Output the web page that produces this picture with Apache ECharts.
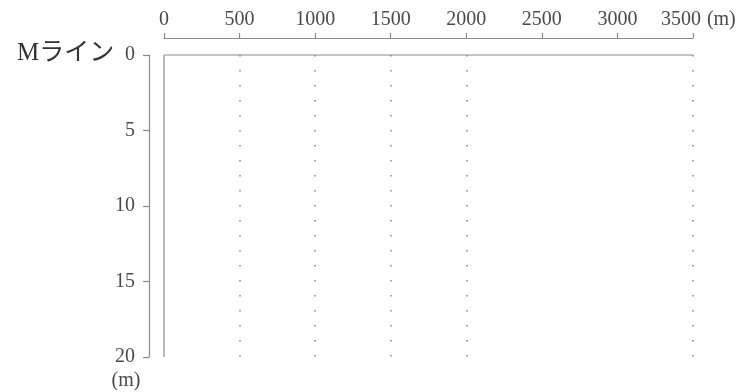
<!DOCTYPE html>
<html>
<head>
<meta charset="utf-8">
<script src="https://cdn.jsdelivr.net/npm/echarts@6.0.0/dist/echarts.min.js"></script>
<style>
html, body { margin: 0; padding: 0; background: #fff; }
#main { width: 752px; height: 392px; }
</style>
</head>
<body>
<div id="main"></div>
<script>
// 横軸（距離）と縦軸（深さ）の目盛
var xMin = 0, xMax = 3500, xStep = 500;
var yMin = 0, yMax = 20, yStep = 5;

// Mライン（深さ0）
var mLineX = [0, 3500];
var mLineDepth = [0, 0];

// 左端の縦線
var edgeX = [0, 0];
var edgeDepth = [0, 20];

// 点線の位置
var surveyX = [500, 1000, 1500, 2000, 3500];

var serif = '"Liberation Serif", "DejaVu Serif", "Noto Sans CJK JP", serif';
var gray = '#8a8a8a';
var textColor = '#4a4a4a';
var fs = 20;

function pairs(xs, ys) {
    var out = [];
    for (var i = 0; i < xs.length; i++) {
        out.push([xs[i], ys[i]]);
    }
    return out;
}

var option = {
    animation: false,
    title: {
        text: 'Mライン',
        left: 12,
        top: 36,
        textStyle: { fontSize: 25, fontWeight: 'normal', color: '#333', fontFamily: serif }
    },
    grid: { left: 164, right: 59, top: 55, bottom: 35, containLabel: false, outerBoundsMode: 'none' },
    xAxis: {
        type: 'value',
        position: 'top',
        offset: 17,
        min: xMin,
        max: xMax,
        interval: xStep,
        name: '(m)',
        nameLocation: 'end',
        nameGap: 9,
        nameTextStyle: { fontSize: fs, color: textColor, fontFamily: serif, verticalAlign: 'bottom', padding: [0, 0, 8, 0] },
        axisLine: { onZero: false, lineStyle: { color: gray, width: 1.2 } },
        axisTick: { inside: false, length: 5, lineStyle: { color: gray, width: 1.2 } },
        axisLabel: {
            margin: 8,
            fontSize: fs,
            color: textColor,
            fontFamily: serif,
            formatter: function (v) {
                return v === xMax ? '{last|' + v + '}' : String(v);
            },
            rich: {
                last: { fontSize: fs, color: textColor, fontFamily: serif, padding: [0, 24, 0, 0] }
            }
        },
        splitLine: { show: false }
    },
    yAxis: {
        type: 'value',
        inverse: true,
        position: 'left',
        offset: 15,
        min: yMin,
        max: yMax,
        interval: yStep,
        name: '(m)',
        nameLocation: 'end',
        nameGap: 14,
        nameTextStyle: { fontSize: fs, color: textColor, fontFamily: serif, padding: [0, 46, 0, 0] },
        axisLine: { onZero: false, lineStyle: { color: gray, width: 1.2 } },
        axisTick: { length: 6, lineStyle: { color: gray, width: 1.2 } },
        axisLabel: { margin: 14, fontSize: fs, color: textColor, fontFamily: serif },
        splitLine: { show: false }
    },
    series: [
        {
            name: 'Mライン',
            type: 'line',
            data: pairs(mLineX, mLineDepth),
            symbol: 'none',
            clip: false,
            lineStyle: { color: gray, width: 1.2 },
            markLine: {
                silent: true,
                symbol: 'none',
                label: { show: false },
                lineStyle: { color: '#888', width: 1.5, type: [1.5, 13.5] },
                data: surveyX.map(function (v) { return { xAxis: v }; })
            }
        },
        {
            name: 'edge',
            type: 'line',
            data: pairs(edgeX, edgeDepth),
            symbol: 'none',
            clip: false,
            lineStyle: { color: gray, width: 1.2 }
        }
    ]
};

var myChart = echarts.init(document.getElementById('main'));
myChart.setOption(option);
</script>
</body>
</html>
